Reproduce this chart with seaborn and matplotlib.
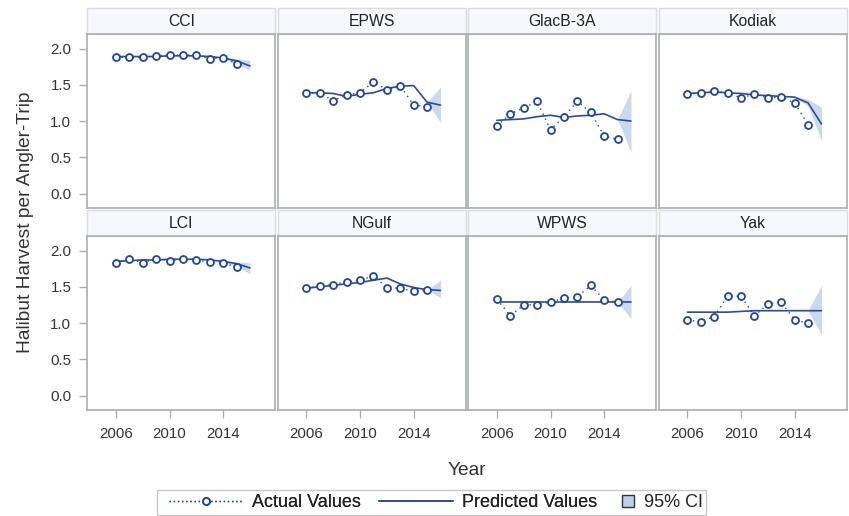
import numpy as np
import pandas as pd
import seaborn as sns
import matplotlib.pyplot as plt
from matplotlib.lines import Line2D
from matplotlib.patches import Rectangle

regions = ["CCI", "EPWS", "GlacB-3A", "Kodiak", "LCI", "NGulf", "WPWS", "Yak"]
years = list(range(2006, 2016))
pred_years = list(range(2006, 2017))
ci_years = [2014, 2015, 2016]

actual = {
    "CCI":      [1.88, 1.88, 1.88, 1.90, 1.91, 1.91, 1.91, 1.86, 1.87, 1.79],
    "EPWS":     [1.39, 1.39, 1.28, 1.36, 1.39, 1.54, 1.43, 1.49, 1.22, 1.20],
    "GlacB-3A": [0.93, 1.10, 1.18, 1.27, 0.88, 1.06, 1.27, 1.12, 0.79, 0.75],
    "Kodiak":   [1.37, 1.39, 1.41, 1.39, 1.32, 1.37, 1.32, 1.33, 1.25, 0.95],
    "LCI":      [1.83, 1.89, 1.83, 1.89, 1.86, 1.89, 1.87, 1.84, 1.83, 1.77],
    "NGulf":    [1.48, 1.51, 1.53, 1.57, 1.59, 1.65, 1.49, 1.48, 1.44, 1.45],
    "WPWS":     [1.33, 1.10, 1.25, 1.25, 1.29, 1.34, 1.36, 1.52, 1.32, 1.29],
    "Yak":      [1.04, 1.02, 1.09, 1.37, 1.37, 1.10, 1.26, 1.29, 1.04, 1.00],
}

predicted = {
    "CCI":      [1.89, 1.89, 1.89, 1.89, 1.90, 1.90, 1.90, 1.89, 1.87, 1.83, 1.76],
    "EPWS":     [1.39, 1.39, 1.38, 1.34, 1.37, 1.39, 1.45, 1.48, 1.49, 1.26, 1.22],
    "GlacB-3A": [1.01, 1.02, 1.03, 1.06, 1.08, 1.05, 1.07, 1.08, 1.10, 1.02, 1.00],
    "Kodiak":   [1.38, 1.39, 1.40, 1.39, 1.38, 1.36, 1.35, 1.34, 1.33, 1.25, 0.96],
    "LCI":      [1.85, 1.86, 1.87, 1.87, 1.88, 1.88, 1.88, 1.87, 1.85, 1.82, 1.76],
    "NGulf":    [1.48, 1.50, 1.52, 1.54, 1.56, 1.59, 1.62, 1.54, 1.49, 1.46, 1.45],
    "WPWS":     [1.29, 1.29, 1.29, 1.29, 1.29, 1.29, 1.29, 1.29, 1.29, 1.29, 1.29],
    "Yak":      [1.15, 1.15, 1.15, 1.15, 1.16, 1.17, 1.17, 1.17, 1.17, 1.17, 1.17],
}

ci_low = {
    "CCI":      [1.86, 1.79, 1.70],
    "EPWS":     [1.49, 1.26, 0.98],
    "GlacB-3A": [1.10, 1.02, 0.57],
    "Kodiak":   [1.32, 1.21, 0.73],
    "LCI":      [1.84, 1.78, 1.68],
    "NGulf":    [1.49, 1.46, 1.35],
    "WPWS":     [1.29, 1.29, 1.06],
    "Yak":      [1.17, 1.17, 0.84],
}
ci_high = {
    "CCI":      [1.88, 1.86, 1.84],
    "EPWS":     [1.49, 1.26, 1.47],
    "GlacB-3A": [1.10, 1.02, 1.42],
    "Kodiak":   [1.34, 1.30, 1.19],
    "LCI":      [1.86, 1.84, 1.83],
    "NGulf":    [1.49, 1.46, 1.59],
    "WPWS":     [1.29, 1.29, 1.52],
    "Yak":      [1.17, 1.17, 1.52],
}

line_col = "#2B4C9B"
mark_col = "#1F45A6"
band_col = "#BDD0EA"
frame_col = "#A9AEB3"

rows = []
for r in regions:
    for y, v in zip(years, actual[r]):
        rows.append({"region": r, "Year": y, "value": v, "kind": "actual"})
    for y, v in zip(pred_years, predicted[r]):
        rows.append({"region": r, "Year": y, "value": v, "kind": "predicted"})
df = pd.DataFrame(rows)

sns.set_theme(style="white")
plt.rcParams["font.family"] = ["Liberation Sans", "DejaVu Sans"]

g = sns.FacetGrid(df, col="region", col_wrap=4, col_order=regions,
                  sharex=True, sharey=True, height=2, aspect=1)
fig = g.figure
fig.set_size_inches(8.49, 5.16)
fig.subplots_adjust(left=0.1025, right=0.9976, top=0.934, bottom=0.2054,
                    wspace=0.011, hspace=0.161)

for r, ax in g.axes_dict.items():
    sub = df[df["region"] == r]
    act = sub[sub["kind"] == "actual"]
    pred = sub[sub["kind"] == "predicted"]
    ax.fill_between(ci_years, ci_low[r], ci_high[r], color=band_col,
                    alpha=0.8, linewidth=0, zorder=1)
    sns.lineplot(data=pred, x="Year", y="value", ax=ax, color=line_col,
                 linewidth=1.2, zorder=2)
    sns.lineplot(data=act, x="Year", y="value", ax=ax, color=mark_col,
                 linewidth=1.0, linestyle=(0, (1, 3)), marker="o",
                 markersize=5, markerfacecolor="white",
                 markeredgecolor=mark_col, markeredgewidth=1.3, zorder=3)
    ax.set_xlim(2003.85, 2017.9)
    ax.set_ylim(-0.2, 2.2)
    ax.set_xticks([2006, 2010, 2014])
    ax.set_yticks([0.0, 0.5, 1.0, 1.5, 2.0])
    ax.set_title("")
    ax.set_xlabel("")
    ax.set_ylabel("")
    for sp in ax.spines.values():
        sp.set_visible(True)
        sp.set_color(frame_col)
        sp.set_linewidth(1.2)
    # strip header
    strip = Rectangle((0, 1.0), 1, 0.149, transform=ax.transAxes,
                      facecolor="#F7F8FE", edgecolor="#D9DBDE",
                      linewidth=1.0, clip_on=False, zorder=0)
    ax.add_patch(strip)
    ax.text(0.5, 1.0745, r, transform=ax.transAxes, ha="center",
            va="center", fontsize=11.3, color="#222222")
    ax.tick_params(axis="both", which="both", direction="out", length=5.8,
                   width=1, color=frame_col, labelsize=10.8,
                   labelcolor="#333333", bottom=False, left=False)
    ax.tick_params(axis="x", pad=6.5)
    ax.tick_params(axis="y", pad=5.5)

for i, ax in enumerate(g.axes.flat):
    if i % 4 == 0:
        ax.tick_params(axis="y", left=True, labelleft=True)
        ax.yaxis.set_major_formatter(plt.FormatStrFormatter("%.1f"))
    else:
        ax.tick_params(axis="y", labelleft=False)
    if i >= 4:
        ax.tick_params(axis="x", bottom=True, labelbottom=True)
    else:
        ax.tick_params(axis="x", labelbottom=False)

fig.text(0.55, 0.088, "Year", ha="center", va="center", fontsize=13.8,
         color="#333333")
fig.text(0.03, 0.57, "Halibut Harvest per Angler-Trip", ha="center",
         va="center", rotation=90, fontsize=13.8, color="#333333")

# legend: two pieces inside one shared frame
line_handles = [
    Line2D([0], [0], color=mark_col, linestyle=(0, (1, 2)), linewidth=1,
           marker="o", markersize=5, markerfacecolor="white",
           markeredgecolor=mark_col, markeredgewidth=1.3),
    Line2D([0], [0], color=line_col, linewidth=1.2),
]
leg1 = fig.legend(line_handles, ["Actual Values", "Predicted Values"],
                  loc="center left", ncol=2, bbox_to_anchor=(0.199, 0.0252),
                  frameon=False, fontsize=13, handlelength=4.1,
                  handletextpad=0.5, columnspacing=1.0, borderpad=0,
                  borderaxespad=0, labelcolor="#222222")
ci_handle = [Line2D([0], [0], linestyle="none", marker="s", markersize=9,
                    markerfacecolor=band_col, markeredgecolor="#333333",
                    markeredgewidth=1.0)]
leg2 = fig.legend(ci_handle, ["95% CI"], loc="center left",
                  bbox_to_anchor=(0.7326, 0.0252), frameon=False,
                  fontsize=13, handlelength=0.7, handletextpad=0.5,
                  borderpad=0, borderaxespad=0, labelcolor="#222222")
fig.add_artist(leg1)
fig.patches.append(Rectangle((157 / 849, 0.002), 549 / 849, 25 / 516,
                             transform=fig.transFigure, facecolor="none",
                             edgecolor="#C8C8C8", linewidth=1.0))

fig.savefig("out.png", dpi=100)
